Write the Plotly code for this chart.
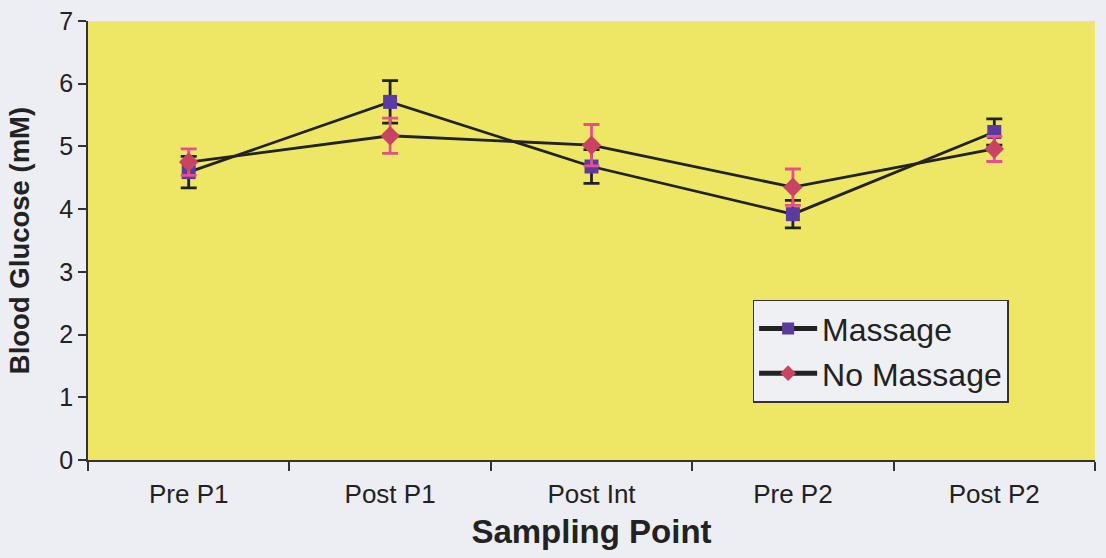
import plotly.graph_objects as go

categories = ["Pre P1", "Post P1", "Post Int", "Pre P2", "Post P2"]
massage = [4.59, 5.71, 4.68, 3.92, 5.23]
massage_err = [0.25, 0.34, 0.27, 0.22, 0.21]
no_massage = [4.75, 5.17, 5.02, 4.35, 4.96]
no_massage_err = [0.21, 0.28, 0.33, 0.29, 0.2]

x = list(range(len(categories)))
font = "Liberation Sans, Arial, sans-serif"
bg = "#eceef3"

fig = go.Figure()
fig.add_trace(go.Scatter(
    x=x, y=massage, name="Massage", mode="lines+markers",
    line=dict(color="#222222", width=2.8),
    marker=dict(symbol="square", size=14, color="#5b3c9e"),
    error_y=dict(type="data", array=massage_err, color="#222222", thickness=2.8, width=8),
))
fig.add_trace(go.Scatter(
    x=x, y=no_massage, name="No Massage", mode="lines+markers",
    line=dict(color="#222222", width=2.8),
    marker=dict(symbol="diamond", size=15, color="#c94462"),
    error_y=dict(type="data", array=no_massage_err, color="#e8508a", thickness=2.8, width=8),
))

fig.update_layout(
    width=1106, height=558,
    margin=dict(l=88, r=11, t=21, b=98),
    paper_bgcolor=bg,
    plot_bgcolor="#eee766",
    font=dict(family=font, color="#222222"),
    showlegend=True,
    legend=dict(
        x=0.660, y=0.365, xanchor="left", yanchor="top",
        bgcolor="#eef0f4", bordercolor="#333333", borderwidth=1.5,
        font=dict(size=32, family=font, color="#222222"),
        itemsizing="constant", tracegroupgap=0, itemwidth=58,
    ),
    xaxis=dict(
        range=[-0.5, 4.5], tickvals=x, ticktext=categories,
        ticks="", showgrid=False, zeroline=False, automargin=False,
        showline=True, linecolor="#333333", linewidth=1.5,
        tickfont=dict(size=26, family=font, color="#222222"),
        ticklabelstandoff=10,
        minor=dict(tick0=-0.5, dtick=1, ticks="outside", ticklen=9,
                   tickcolor="#333333", tickwidth=1.5, showgrid=False),
        title=dict(text="<b>Sampling Point</b>", font=dict(size=33, family=font, color="#222222"), standoff=12),
    ),
    yaxis=dict(
        range=[0, 7], dtick=1, ticks="outside", ticklen=8,
        tickcolor="#333333", tickwidth=1.5,
        showgrid=False, zeroline=False, automargin=False,
        showline=True, linecolor="#333333", linewidth=1.5,
        tickfont=dict(size=25, family=font, color="#222222"),
        title=dict(text="<b>Blood Glucose (mM)</b>", font=dict(size=27.5, family=font, color="#222222"), standoff=22),
    ),
)

fig.write_html(
    "out.html",
    config={"displayModeBar": False},
    post_script=f"document.body.style.margin='0';document.body.style.background='{bg}';",
)
